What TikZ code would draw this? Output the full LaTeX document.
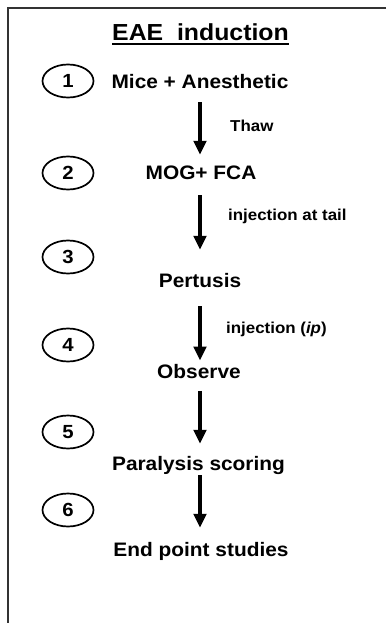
\documentclass[tikz,border=0pt]{standalone}
\usepackage{fontspec}
\setmainfont{Liberation Sans}[FakeStretch=1.07]
\usetikzlibrary{arrows.meta,shapes.geometric}
\tikzset{
  mainlbl/.style={inner sep=0pt,text height=14pt,text depth=4pt,anchor=base,font=\fontsize{19.5}{23}\selectfont\bfseries},
  smalllbl/.style={inner sep=0pt,anchor=base west,font=\fontsize{15.8}{19}\selectfont\bfseries},
  numbox/.style={draw,ellipse,line width=1.7pt,minimum width=51pt,minimum height=33pt,inner sep=0pt,font=\fontsize{19}{22}\selectfont\bfseries},
  arr/.style={line width=3.2pt,-{Triangle[width=12.5pt,length=14pt]}},
  frame/.style={line width=1.6pt,draw=black!80}
}
\begin{document}
\begin{tikzpicture}[x=1pt,y=-1pt]
\useasboundingbox (0,0) rectangle (386,623);
\draw[frame] (386,8) -- (8,8) -- (8,623);
% title
\node[inner sep=0pt,anchor=base,font=\fontsize{23.2}{27}\selectfont\bfseries] (title) at (200.5,40.7) {EAE~~induction};
\draw[line width=1.9pt] ([yshift=-3pt]title.base west) -- ([yshift=-3pt]title.base east);
% numbers
\node[numbox] (n1) at (68,81) {1};
\node[numbox] (n2) at (68,173) {2};
\node[numbox] (n3) at (68,257) {3};
\node[numbox] (n4) at (68,345) {4};
\node[numbox] (n5) at (68,432) {5};
\node[numbox] (n6) at (68,510) {6};
% steps
\node[mainlbl] (mice) at (200,89) {Mice + Anesthetic};
\node[mainlbl] (mog) at (201,179) {MOG+ FCA};
\node[mainlbl] (pert) at (200,287.3) {Pertusis};
\node[mainlbl] (obs) at (199,378) {Observe};
\node[mainlbl] (para) at (198.5,470) {Paralysis scoring};
\node[mainlbl] (endp) at (201,556.7) {End point studies};
% arrows
\draw[arr,shorten <=9pt,shorten >=10pt] (mice.south -| 200,0) -- (mog.north -| 200,0);
\draw[arr,shorten <=12pt,shorten >=23.3pt] (mog.south -| 200,0) -- (pert.north -| 200,0);
\draw[arr,shorten <=14.7pt,shorten >=3.3pt] (pert.south -| 200,0) -- (obs.north -| 200,0);
\draw[arr,shorten <=8.7pt,shorten >=12pt] (obs.south -| 200,0) -- (para.north -| 200,0);
\draw[arr,shorten <=1pt,shorten >=14.7pt] (para.south -| 200,0) -- (endp.north -| 200,0);
% arrow labels
\node[smalllbl] (l1) at (230,131.7) {Thaw};
\node[smalllbl] (l2) at (228,220.7) {injection at tail};
\node[smalllbl] (l3) at (226,333) {injection (\textit{ip})};
\end{tikzpicture}
\end{document}
